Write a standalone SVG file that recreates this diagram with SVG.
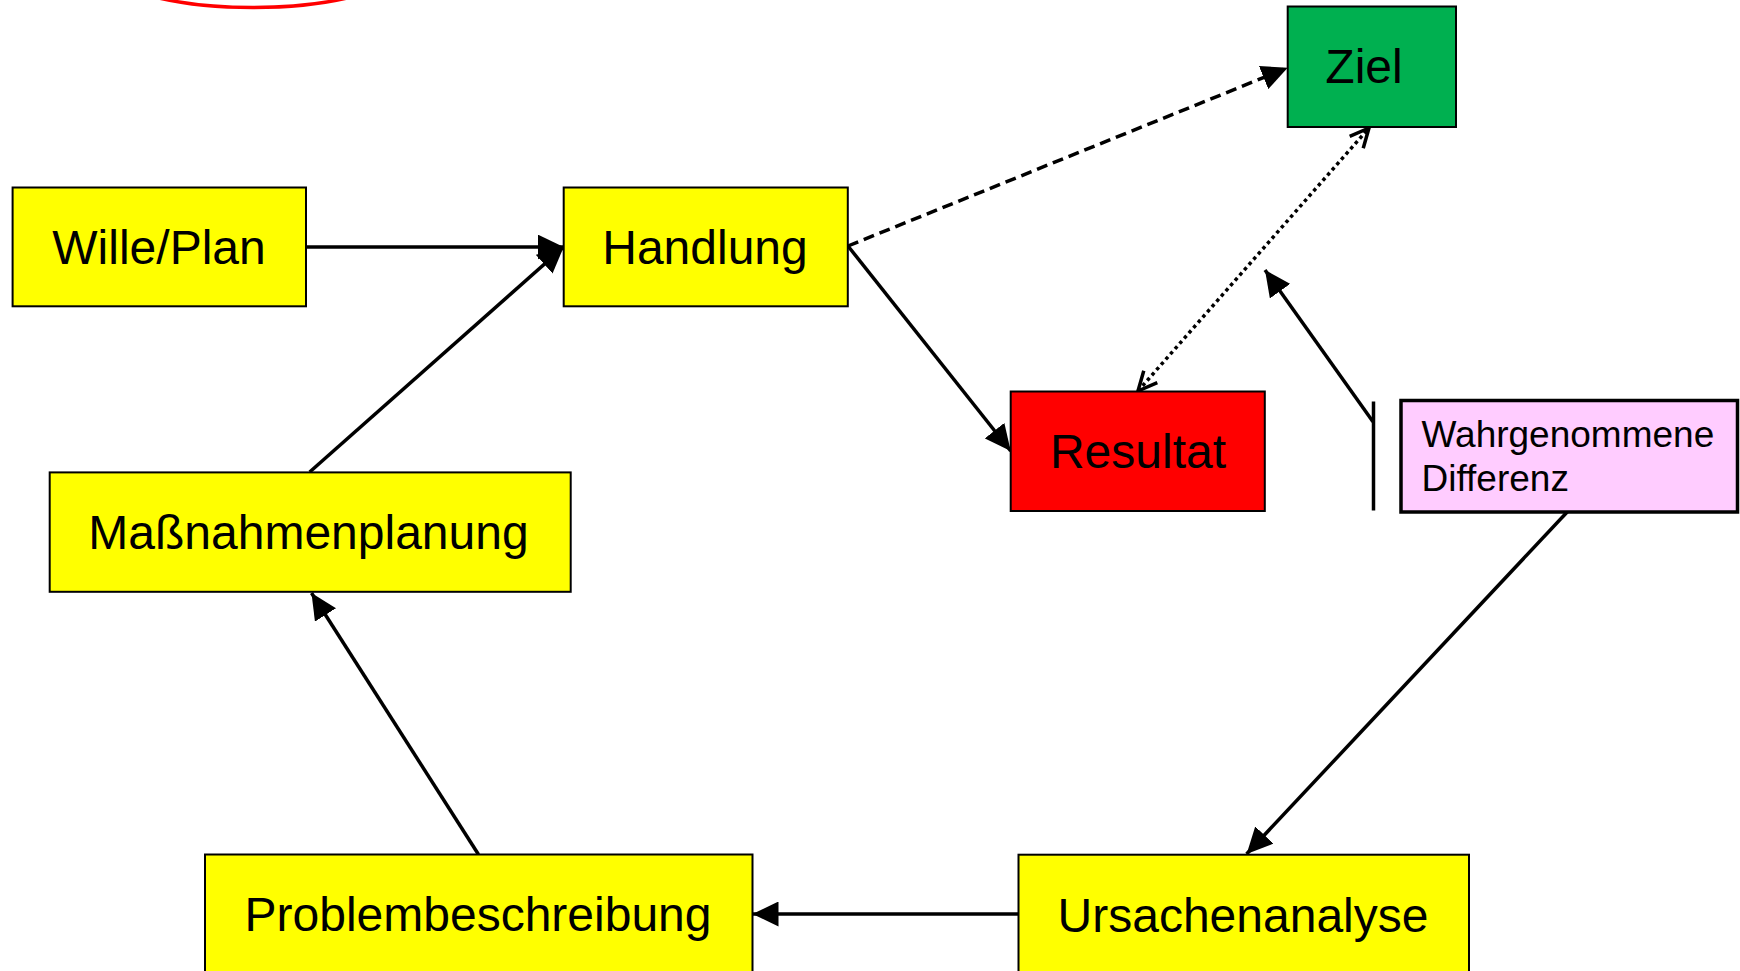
<svg xmlns="http://www.w3.org/2000/svg" width="1740" height="971" viewBox="0 0 1740 971">
  <style>
    .box { stroke: #000; stroke-width: 2; }
    .yellow { fill: #FFFF00; }
    .lbl { font-family: "Liberation Sans", Arial, sans-serif; font-size: 48px; fill: #000; text-anchor: middle; }
    .small { font-family: "Liberation Sans", Arial, sans-serif; font-size: 37px; fill: #000; }
    .conn { stroke: #000; stroke-width: 3.5; fill: none; }
  </style>
  <defs>
    <marker id="arrow" markerUnits="userSpaceOnUse" markerWidth="26" markerHeight="25" refX="26" refY="12.5" orient="auto" viewBox="0 0 26 25">
      <path d="M0,0 L26,12.5 L0,25 Z" fill="#000" stroke="none"/>
    </marker>
    <marker id="open" markerUnits="userSpaceOnUse" markerWidth="24" markerHeight="22" refX="21" refY="11" orient="auto-start-reverse" viewBox="0 0 24 22">
      <path d="M2,2 L21,11 L2,20" fill="none" stroke="#000" stroke-width="3.5"/>
    </marker>
  </defs>
  <rect width="1740" height="971" fill="#fff"/>

  <ellipse id="mark" cx="253" cy="-42.5" rx="160" ry="50" fill="none" stroke="#FF0000" stroke-width="3.5"/>

  <g id="connectors">
    <line class="conn" x1="306" y1="247" x2="563.7" y2="247" marker-end="url(#arrow)"/>
    <line class="conn" x1="309.7" y1="472" x2="563.7" y2="247" marker-end="url(#arrow)"/>
    <line class="conn" x1="848" y1="246" x2="1010.7" y2="451" marker-end="url(#arrow)"/>
    <line class="conn" x1="848" y1="246" x2="1287.7" y2="67.8" stroke-dasharray="11 6" marker-end="url(#arrow)"/>
    <line class="conn" x1="1138" y1="391" x2="1369" y2="128" stroke-dasharray="3.5 3.5" marker-start="url(#open)" marker-end="url(#open)"/>
    <line class="conn" x1="1373.5" y1="401.5" x2="1373.5" y2="510.5" stroke-width="4.5"/>
    <line class="conn" x1="1373" y1="421.7" x2="1265" y2="270" stroke-width="4" marker-end="url(#arrow)"/>
    <line class="conn" x1="1567.4" y1="511.7" x2="1246.6" y2="854" marker-end="url(#arrow)"/>
    <line class="conn" x1="1018.5" y1="914" x2="752.5" y2="914" marker-end="url(#arrow)"/>
    <line class="conn" x1="478.5" y1="854.5" x2="311.5" y2="593" marker-end="url(#arrow)"/>
  </g>

  <g id="wille">
    <rect class="box yellow" x="12.6" y="187.5" width="293.4" height="118.8"/>
    <text class="lbl" x="159" y="264">Wille/Plan</text>
  </g>
  <g id="handlung">
    <rect class="box yellow" x="563.7" y="187.5" width="284.1" height="118.8"/>
    <text class="lbl" x="705" y="264">Handlung</text>
  </g>
  <g id="ziel">
    <rect class="box" fill="#00B050" x="1287.7" y="6.5" width="168.3" height="120.5"/>
    <text class="lbl" x="1364" y="82.6">Ziel</text>
  </g>
  <g id="resultat">
    <rect class="box" fill="#FF0000" x="1010.7" y="391.5" width="254.1" height="119.5"/>
    <text class="lbl" x="1138" y="468.3">Resultat</text>
  </g>
  <g id="differenz">
    <rect x="1401" y="400.5" width="336.5" height="111.5" fill="#FFCCFF" stroke="#000" stroke-width="3.5"/>
    <text class="small" x="1421.5" y="446.6">Wahrgenommene</text>
    <text class="small" x="1421.5" y="490.7">Differenz</text>
  </g>
  <g id="massnahmen">
    <rect class="box yellow" x="49.7" y="472.4" width="521" height="119.4"/>
    <text class="lbl" x="308.5" y="549.4">Maßnahmenplanung</text>
  </g>
  <g id="problem">
    <rect class="box yellow" x="205" y="854.5" width="547.5" height="119"/>
    <text class="lbl" x="478" y="931">Problembeschreibung</text>
  </g>
  <g id="ursachen">
    <rect class="box yellow" x="1018.5" y="854.7" width="450.5" height="119"/>
    <text class="lbl" x="1243" y="931.5">Ursachenanalyse</text>
  </g>
</svg>
